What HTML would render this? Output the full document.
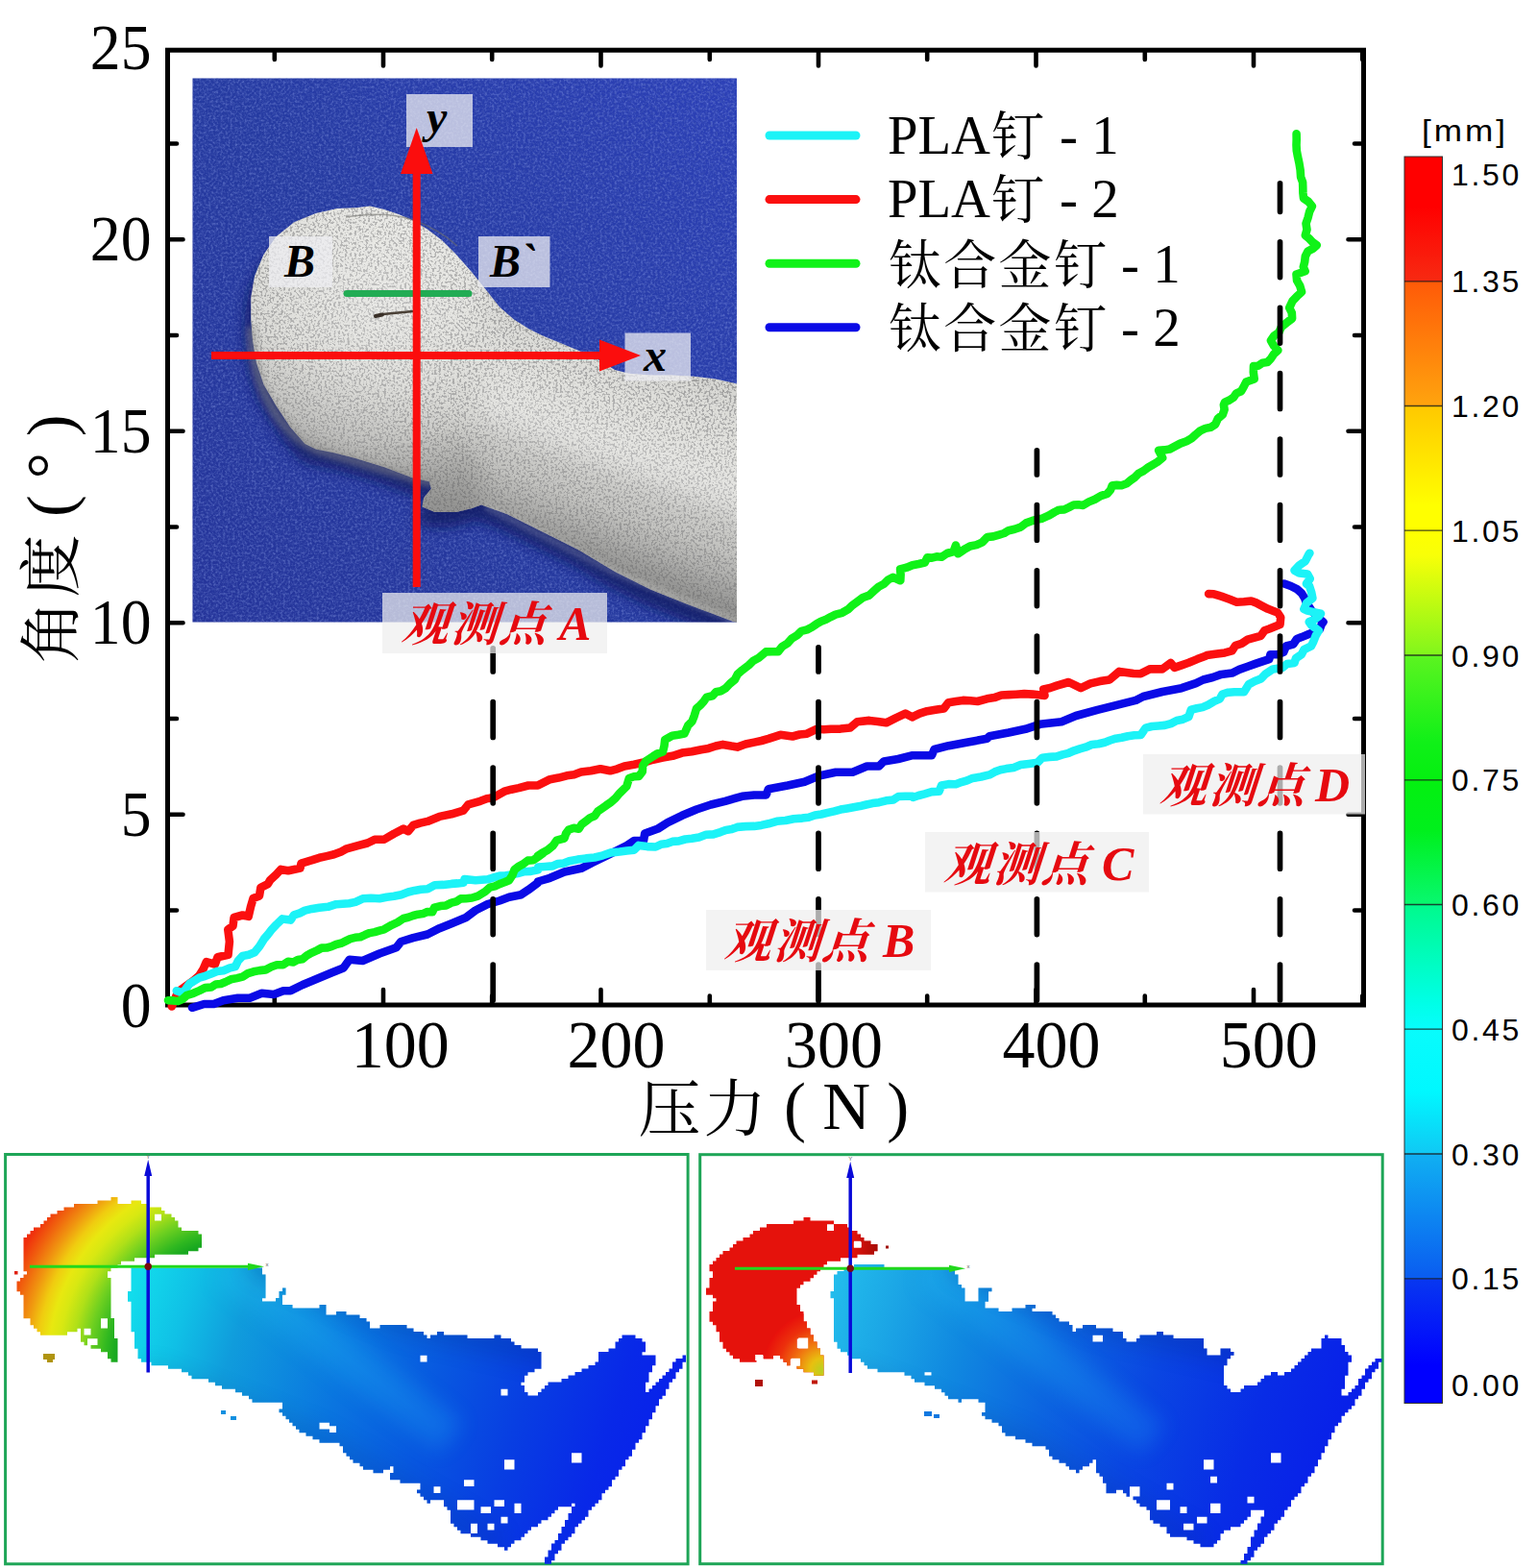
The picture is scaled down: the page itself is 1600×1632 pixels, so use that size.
<!DOCTYPE html>
<html><head><meta charset="utf-8"><title>chart</title><style>html,body{margin:0;padding:0;background:#fff}body{width:1600px;height:1632px;overflow:hidden}</style></head><body>
<svg width="1600" height="1632" viewBox="0 0 1600 1632" style="display:block">
<defs>
<linearGradient id="cbar" x1="0" y1="0" x2="0" y2="1">
<stop offset="0" stop-color="#ff0000"/><stop offset="0.04" stop-color="#ff0000"/>
<stop offset="0.1" stop-color="#f72a12"/><stop offset="0.1" stop-color="#ff5a08"/>
<stop offset="0.2" stop-color="#ffa40e"/><stop offset="0.2" stop-color="#ffc800"/>
<stop offset="0.28" stop-color="#ffff00"/><stop offset="0.3" stop-color="#ffff00"/><stop offset="0.32" stop-color="#f8ff08"/>
<stop offset="0.4" stop-color="#80f61c"/><stop offset="0.4" stop-color="#5cf420"/>
<stop offset="0.47" stop-color="#10f018"/><stop offset="0.5" stop-color="#04f010"/><stop offset="0.54" stop-color="#00f01c"/>
<stop offset="0.6" stop-color="#08f870"/><stop offset="0.6" stop-color="#00fa8c"/>
<stop offset="0.68" stop-color="#00ffe8"/><stop offset="0.7" stop-color="#08fcfc"/><stop offset="0.75" stop-color="#00f8ff"/>
<stop offset="0.8" stop-color="#10c8f4"/><stop offset="0.8" stop-color="#10b0f2"/>
<stop offset="0.9" stop-color="#0a5cf0"/><stop offset="0.9" stop-color="#0838f0"/>
<stop offset="0.97" stop-color="#0000ff"/><stop offset="1" stop-color="#0000ff"/>
</linearGradient>
<linearGradient id="bluebg" x1="0" y1="1" x2="1" y2="0">
<stop offset="0" stop-color="#25349a"/><stop offset="0.5" stop-color="#253aa0"/><stop offset="1" stop-color="#2c40b8"/>
</linearGradient>
<linearGradient id="boneg" gradientUnits="userSpaceOnUse" x1="420" y1="230" x2="330" y2="480">
<stop offset="0" stop-color="#e6e6e2"/><stop offset="0.6" stop-color="#dcdcd8"/><stop offset="1" stop-color="#bcbcba"/>
</linearGradient>
<linearGradient id="shaftg" gradientUnits="userSpaceOnUse" x1="690" y1="385" x2="612" y2="600">
<stop offset="0" stop-color="#000" stop-opacity="0.06"/><stop offset="0.2" stop-color="#fff" stop-opacity="0.05"/><stop offset="0.45" stop-color="#fff" stop-opacity="0.3"/><stop offset="0.68" stop-color="#000" stop-opacity="0.03"/><stop offset="0.9" stop-color="#000" stop-opacity="0.2"/><stop offset="1" stop-color="#000" stop-opacity="0.3"/>
</linearGradient>
<radialGradient id="headg2" gradientUnits="userSpaceOnUse" cx="395" cy="315" r="215">
<stop offset="0" stop-color="#fff" stop-opacity="0.28"/><stop offset="0.5" stop-color="#fff" stop-opacity="0.05"/><stop offset="0.7" stop-color="#000" stop-opacity="0.04"/><stop offset="0.85" stop-color="#000" stop-opacity="0.14"/><stop offset="1" stop-color="#000" stop-opacity="0.22"/>
</radialGradient>
<clipPath id="boneclip"><polygon points="370,216.2 385,214.4 400,218.1 415,223 430,229.4 445,238.8 460,250 475,265 490,281.9 505,300.6 520,319.4 535,332.5 550,341.9 565,349.4 587.5,358.8 610,368.1 625,375.6 640,385 655,388.8 677.5,390.6 700,390.6 722.5,391.8 745,394.4 769.4,400 769.4,649.4 745,640 715,628.8 677.5,613.8 640,595 602.5,572.5 565,553.8 527.5,535 501.2,525.6 490,529.4 475,533.1 452.5,533.1 439.4,527.5 441.2,518.1 448.8,508.8 446.9,501.2 430,497.5 400,486.2 370,476.9 347.5,471.2 328.8,467.5 317.5,461.9 302.5,445 287.5,422.5 274.4,400 266.9,377.5 263.1,355 261.2,332.5 261.2,310 265,287.5 274.4,265 287.5,246.2 306.2,231.2 328.8,221.9 351.2,217"/></clipPath>
<filter id="speck" x="0" y="0" width="100%" height="100%">
<feTurbulence type="fractalNoise" baseFrequency="0.42" numOctaves="2" seed="3" result="n"/>
<feColorMatrix type="matrix" values="0 0 0 0 0.33  0 0 0 0 0.33  0 0 0 0 0.33  -7 0 0 0 3.55"/>
<feComposite in2="SourceGraphic" operator="in"/>
</filter>
<filter id="weave" x="0" y="0" width="100%" height="100%">
<feTurbulence type="fractalNoise" baseFrequency="0.4" numOctaves="2" seed="8"/>
<feColorMatrix type="matrix" values="0 0 0 0 0.36  0 0 0 0 0.46  0 0 0 0 0.92  2.4 0 0 0 -1.05"/>
</filter>
<filter id="weaved" x="0" y="0" width="100%" height="100%">
<feTurbulence type="fractalNoise" baseFrequency="0.4" numOctaves="2" seed="21"/>
<feColorMatrix type="matrix" values="0 0 0 0 0.06  0 0 0 0 0.1  0 0 0 0 0.45  2.4 0 0 0 -1.05"/>
</filter>
<filter id="blur6"><feGaussianBlur stdDeviation="7"/></filter>
<filter id="blur16" x="-20%" y="-20%" width="140%" height="140%"><feGaussianBlur stdDeviation="14"/></filter>
<filter id="blur3"><feGaussianBlur stdDeviation="3"/></filter>
<clipPath id="photoclip"><rect x="200.5" y="81.5" width="566.5" height="566"/></clipPath>
<radialGradient id="lheadg" gradientUnits="userSpaceOnUse" cx="250" cy="1420" r="265">
<stop offset="0.49" stop-color="#18a820"/><stop offset="0.53" stop-color="#30b820"/><stop offset="0.6" stop-color="#70d020"/><stop offset="0.66" stop-color="#b0e018"/><stop offset="0.715" stop-color="#d8e812"/><stop offset="0.755" stop-color="#e8e810"/><stop offset="0.8" stop-color="#f0cc10"/><stop offset="0.85" stop-color="#f09810"/><stop offset="0.91" stop-color="#f0600e"/><stop offset="0.965" stop-color="#f0300c"/><stop offset="1" stop-color="#f0280c"/>
</radialGradient>
<linearGradient id="lbodyg" gradientUnits="userSpaceOnUse" x1="140" y1="1340" x2="690" y2="1520">
<stop offset="0" stop-color="#12dcec"/><stop offset="0.1" stop-color="#10c0e6"/><stop offset="0.2" stop-color="#109cdc"/><stop offset="0.4" stop-color="#0a76e0"/><stop offset="0.57" stop-color="#0858e0"/><stop offset="0.73" stop-color="#083ee2"/><stop offset="0.89" stop-color="#0828e8"/><stop offset="1" stop-color="#0820ec"/>
</linearGradient>
<linearGradient id="rbodyg" gradientUnits="userSpaceOnUse" x1="868" y1="1340" x2="1415" y2="1520">
<stop offset="0" stop-color="#22bcec"/><stop offset="0.1" stop-color="#1ca8e6"/><stop offset="0.25" stop-color="#1088e0"/><stop offset="0.42" stop-color="#0c66e0"/><stop offset="0.6" stop-color="#0a46e2"/><stop offset="0.8" stop-color="#082ce6"/><stop offset="1" stop-color="#081cea"/>
</linearGradient>
<radialGradient id="rheadg" gradientUnits="userSpaceOnUse" cx="856" cy="1426" r="62">
<stop offset="0" stop-color="#b8d020"/><stop offset="0.2" stop-color="#e8c010"/><stop offset="0.45" stop-color="#f07810"/><stop offset="0.75" stop-color="#ec300c"/><stop offset="1" stop-color="#e8100c"/>
</radialGradient>
</defs>
<rect width="1600" height="1632" fill="#fff"/>
<g clip-path="url(#photoclip)">
<rect x="200" y="81" width="568" height="568" fill="url(#bluebg)"/>
<rect x="200" y="81" width="568" height="568" filter="url(#weave)" opacity="0.4"/>
<rect x="200" y="81" width="568" height="568" filter="url(#weaved)" opacity="0.55"/>
<polygon points="364,232.2 379,230.4 394,234.1 409,239 424,245.4 439,254.8 454,266 469,281 484,297.9 499,316.6 514,335.4 529,348.5 544,357.9 559,365.4 581.5,374.8 604,384.1 619,391.6 634,401 649,404.8 671.5,406.6 694,406.6 716.5,407.8 739,410.4 763.4,416 763.4,665.4 739,656 709,644.8 671.5,629.8 634,611 596.5,588.5 559,569.8 521.5,551 495.2,541.6 484,545.4 469,549.1 446.5,549.1 433.4,543.5 435.2,534.1 442.8,524.8 440.9,517.2 424,513.5 394,502.2 364,492.9 341.5,487.2 322.8,483.5 311.5,477.9 296.5,461 281.5,438.5 268.4,416 260.9,393.5 257.1,371 255.2,348.5 255.2,326 259,303.5 268.4,281 281.5,262.2 300.2,247.2 322.8,237.9 345.2,233" fill="#0c1458" opacity="0.7" filter="url(#blur6)"/>
<polygon points="370,216.2 385,214.4 400,218.1 415,223 430,229.4 445,238.8 460,250 475,265 490,281.9 505,300.6 520,319.4 535,332.5 550,341.9 565,349.4 587.5,358.8 610,368.1 625,375.6 640,385 655,388.8 677.5,390.6 700,390.6 722.5,391.8 745,394.4 769.4,400 769.4,649.4 745,640 715,628.8 677.5,613.8 640,595 602.5,572.5 565,553.8 527.5,535 501.2,525.6 490,529.4 475,533.1 452.5,533.1 439.4,527.5 441.2,518.1 448.8,508.8 446.9,501.2 430,497.5 400,486.2 370,476.9 347.5,471.2 328.8,467.5 317.5,461.9 302.5,445 287.5,422.5 274.4,400 266.9,377.5 263.1,355 261.2,332.5 261.2,310 265,287.5 274.4,265 287.5,246.2 306.2,231.2 328.8,221.9 351.2,217" fill="url(#boneg)"/>
<polygon points="370,216.2 385,214.4 400,218.1 415,223 430,229.4 445,238.8 460,250 475,265 490,281.9 505,300.6 520,319.4 535,332.5 550,341.9 565,349.4 587.5,358.8 610,368.1 625,375.6 640,385 655,388.8 677.5,390.6 700,390.6 722.5,391.8 745,394.4 769.4,400 769.4,649.4 745,640 715,628.8 677.5,613.8 640,595 602.5,572.5 565,553.8 527.5,535 501.2,525.6 490,529.4 475,533.1 452.5,533.1 439.4,527.5 441.2,518.1 448.8,508.8 446.9,501.2 430,497.5 400,486.2 370,476.9 347.5,471.2 328.8,467.5 317.5,461.9 302.5,445 287.5,422.5 274.4,400 266.9,377.5 263.1,355 261.2,332.5 261.2,310 265,287.5 274.4,265 287.5,246.2 306.2,231.2 328.8,221.9 351.2,217" fill="#000" filter="url(#speck)" opacity="0.8"/>
<g clip-path="url(#boneclip)"><g filter="url(#blur16)"><polygon points="500,150 560,300 640,370 800,380 800,680 520,560 500,560" fill="url(#shaftg)"/><rect x="220" y="150" width="280" height="420" fill="url(#headg2)"/></g></g>
<path d="M262 340 C262 400 290 450 330 468 L450 503" fill="none" stroke="#8c8c8c" stroke-width="10" opacity="0.5" filter="url(#blur3)"/>
<path d="M505 527 L640 596 L767 647" fill="none" stroke="#f0f0ec" stroke-width="5" opacity="0.3" filter="url(#blur3)"/>
<path d="M360 226 C385 222 410 222 430 229 C450 236 465 246 476 256" fill="none" stroke="#6a6a66" stroke-width="1.6" opacity="0.55"/>
<path d="M391 329 L399 327 L430 324" stroke="#4a4036" stroke-width="2.6" fill="none" stroke-linecap="round"/>
<path d="M391 329 L398 327.500" stroke="#3a3028" stroke-width="4" fill="none" stroke-linecap="round"/>
</g>
<rect x="423" y="98" width="69" height="55" fill="#eeeef2" fill-opacity="0.74"/>
<rect x="280" y="246" width="66" height="53" fill="#eeeef2" fill-opacity="0.74"/>
<rect x="498" y="246" width="74.5" height="53" fill="#eeeef2" fill-opacity="0.74"/>
<rect x="650.5" y="346.5" width="68.5" height="50" fill="#eeeef2" fill-opacity="0.74"/>
<line x1="361" y1="305.500" x2="488" y2="305.500" stroke="#22ac54" stroke-width="7" stroke-linecap="round"/>
<line x1="433.700" y1="611" x2="433.700" y2="176" stroke="#fb0d0d" stroke-width="8"/>
<polygon points="433.700,133 450.500,181 417,181" fill="#fb0d0d"/>
<line x1="220" y1="370" x2="630" y2="370" stroke="#fb0d0d" stroke-width="8"/>
<polygon points="667,370 624,353.500 624,386.500" fill="#fb0d0d"/>
<text x="444" y="138" style="font-family:'Liberation Serif',serif;font-weight:bold;font-style:italic;font-size:48px">y</text>
<text x="296" y="287.500" style="font-family:'Liberation Serif',serif;font-weight:bold;font-style:italic;font-size:48px">B</text>
<text x="510" y="287.500" style="font-family:'Liberation Serif',serif;font-weight:bold;font-style:italic;font-size:48px">B`</text>
<text x="670" y="385.500" style="font-family:'Liberation Serif',serif;font-weight:bold;font-style:italic;font-size:48px">x</text>
<rect x="174.500" y="52.200" width="1245" height="993.800" fill="none" stroke="#000" stroke-width="5"/>
<path d="M285.8 1044v-7.5M285.8 54.500v7.5M399 1044v-14M399 54.500v14M512.2 1044v-7.5M512.2 54.500v7.5M625.5 1044v-14M625.5 54.500v14M738.8 1044v-7.5M738.8 54.500v7.5M852 1044v-14M852 54.500v14M965.2 1044v-7.5M965.2 54.500v7.5M1078.5 1044v-14M1078.5 54.500v14M1191.8 1044v-7.5M1191.8 54.500v7.5M1305 1044v-14M1305 54.500v14M1418.2 1044v-7.5M1418.2 54.500v7.5M176.500 947.5h7.5M1417.500 947.5h-7.5M176.500 847.8h14M1417.500 847.8h-14M176.500 748h7.5M1417.500 748h-7.5M176.500 648.3h14M1417.500 648.3h-14M176.500 548.5h7.5M1417.500 548.5h-7.5M176.500 448.8h14M1417.500 448.8h-14M176.500 349h7.5M1417.500 349h-7.5M176.500 249.3h14M1417.500 249.3h-14M176.500 149.5h7.5M1417.500 149.5h-7.5" stroke="#000" stroke-width="4.600" fill="none" stroke-linecap="round"/>
<text transform="translate(157.5 1069.1) scale(0.965 1.02)" text-anchor="end" style="font-family:'Liberation Serif',serif;font-size:66px">0</text>
<text transform="translate(157.5 869.6) scale(0.965 1.02)" text-anchor="end" style="font-family:'Liberation Serif',serif;font-size:66px">5</text>
<text transform="translate(157.5 670.1) scale(0.965 1.02)" text-anchor="end" style="font-family:'Liberation Serif',serif;font-size:66px">10</text>
<text transform="translate(157.5 470.6) scale(0.965 1.02)" text-anchor="end" style="font-family:'Liberation Serif',serif;font-size:66px">15</text>
<text transform="translate(157.5 271.1) scale(0.965 1.02)" text-anchor="end" style="font-family:'Liberation Serif',serif;font-size:66px">20</text>
<text transform="translate(157.5 71.6) scale(0.965 1.02)" text-anchor="end" style="font-family:'Liberation Serif',serif;font-size:66px">25</text>
<text transform="translate(416.7 1110.5) scale(1.03 1.05)" text-anchor="middle" style="font-family:'Liberation Serif',serif;font-size:66px">100</text>
<text transform="translate(641.5 1110.5) scale(1.03 1.05)" text-anchor="middle" style="font-family:'Liberation Serif',serif;font-size:66px">200</text>
<text transform="translate(868 1110.5) scale(1.03 1.05)" text-anchor="middle" style="font-family:'Liberation Serif',serif;font-size:66px">300</text>
<text transform="translate(1094.5 1110.5) scale(1.03 1.05)" text-anchor="middle" style="font-family:'Liberation Serif',serif;font-size:66px">400</text>
<text transform="translate(1320.7 1110.5) scale(1.03 1.05)" text-anchor="middle" style="font-family:'Liberation Serif',serif;font-size:66px">500</text>
<path d="M200 1048.8 L212.5 1045 L222.5 1045 L232.5 1041.2 L247.5 1038.8 L260 1038.8 L272.5 1033.8 L285 1035 L295 1031.2 L302.5 1031.2 L315 1025 L330 1018.8 L345 1012.5 L357.5 1007.5 L363.8 998.8 L377.5 1000 L395 992.5 L412.5 986.2 L417.5 980 L430 976.2 L445 972.5 L457.5 966.2 L470 961.2 L485 955 L495 947.5 L507.5 941.2 L520 937.5 L530 933.8 L542.5 931.2 L550 926.2 L560 918.8 L560 917.5 L572.5 913.8 L587.5 907.5 L605 903.8 L617.5 897.5 L635 888.8 L652.5 880 L660 875 L670 875 L671.2 867.5 L685 862.5 L695 856.2 L710 848.8 L725 842.5 L740 837.5 L755 833.8 L772.5 828.8 L785 827.5 L797.5 827.5 L800 821.2 L820 817.5 L837.5 813.8 L852.5 807.5 L870 803.8 L887.5 803.8 L902.5 797.5 L915 797.5 L920 792.5 L935 790 L950 786.2 L950 786.2 L970 786.2 L972.5 780 L987.5 776.2 L1007.5 772.5 L1027.5 768.8 L1030 766.2 L1050 762.5 L1067.5 758.8 L1082.5 753.8 L1105 751.2 L1120 745 L1142.5 738.8 L1162.5 733.8 L1182.5 728.8 L1190 725 L1210 720 L1230 716.2 L1245 711.2 L1252.5 707.5 L1262.5 705 L1271.2 701.9 L1282.5 700.6 L1290 696.9 L1298.8 693.8 L1307.5 690.6 L1315 688.1 L1321.2 686.2 L1322.5 681.2 L1330 681.2 L1336.2 678.8 L1338.8 672.5 L1346.2 670.6 L1350 665 L1355 663.1 L1362.5 660 L1368.8 657.5 L1373.8 655 L1375.6 650 L1377.5 647.5 L1371.2 641.9 L1365 635 L1360 627.5 L1358.1 622.5 L1355 617.5 L1350 613.1 L1343.8 610 L1336.9 607.5" fill="none" stroke="#0a0ae6" stroke-width="8.6" stroke-linejoin="round" stroke-linecap="round"/>
<path d="M178.8 1047.5 L182 1040.1 L185.1 1032.5 L195.1 1025.1 L201.6 1020.4 L207.6 1015.1 L211.7 1008.4 L214.8 1001.1 L223.8 1003.7 L226.5 996.3 L237.5 993.8 L238.9 980 L237.3 967.5 L242.5 963.7 L243.6 955 L252.5 952.5 L258.7 953.8 L261 943.7 L263.6 935 L270 932.4 L271.4 923.8 L278.8 920.1 L281.1 916.2 L287.6 910.1 L292.4 904.9 L300 906.3 L312.5 903.6 L313.5 898.7 L325.1 895.2 L332.4 892.8 L340 891.1 L347.7 889.3 L355.1 886.4 L360 883.7 L372.6 880.2 L382.5 877.5 L390 873.8 L400 873.6 L410.1 867.7 L420 862.6 L424.9 865.2 L430.1 858.9 L437.4 856.6 L445 854.9 L457.4 849.9 L470 847.3 L482.4 843.6 L487.4 837.4 L500 833.8 L506.7 831.3 L513.8 830.1 L525 823.7 L532.4 821.7 L540 820.1 L550 817.5 L560 817.4 L572.5 811.2 L581.3 809.6 L590 807.3 L597.6 806.2 L604.9 803.5 L615.1 802.2 L625 800.2 L635.1 802.3 L642.6 800.3 L650 797.4 L660 795.7 L670 793.5 L679.9 790.7 L690 788.6 L700.1 786.8 L710 783.6 L720.1 782.2 L730 780.2 L737.6 778.9 L745 776.5 L752.5 774.9 L760 776.3 L767.5 777.6 L776.1 774.5 L785 772.6 L792.6 771 L800 768.9 L812.4 764.8 L825 766.5 L832.4 764.5 L840 763.7 L850 758.8 L857.5 759.3 L865 758.7 L875 758.6 L885 757.5 L892.4 751.2 L905 749.9 L913.8 750.9 L922.5 752.3 L932.4 747.3 L942.5 742.6 L949.9 746.5 L950 746.2 L957.3 742.6 L965.1 740.2 L973.8 738.8 L982.5 737.5 L987.4 731.2 L995 730.1 L1002.5 728.9 L1010 729.3 L1017.5 730 L1027.4 727.3 L1035.1 726.1 L1042.4 723.5 L1050 723.1 L1057.5 722.7 L1066.2 722.1 L1075 722.6 L1087.5 724 L1086.3 717.5 L1093.2 716 L1100 713.6 L1112.5 710 L1125.1 716.1 L1135.1 711.4 L1145 709.1 L1155 707.5 L1165.2 698.9 L1172.5 700 L1179.9 701 L1187.5 701.2 L1197.5 696.2 L1210 696.4 L1218.7 690 L1222.6 694.9 L1230 692.4 L1237.4 689.8 L1246.2 686.1 L1255.1 682.7 L1256.3 682.1 L1265 680.7 L1275 679.4 L1282.5 677.4 L1286.1 671.8 L1292.5 669.9 L1298.8 665.7 L1305.1 663.9 L1312.5 661.8 L1316.4 656.3 L1321.3 654.5 L1327.5 652 L1332.5 650.1 L1333.2 642.5 L1329.9 637.5 L1326.3 636.2 L1320 633.8 L1313.7 630.6 L1307.6 627.4 L1302.5 625.5 L1295 626.3 L1287.5 626.7 L1280 623.7 L1271.3 620.6 L1263.7 618.3 L1258.1 618.1" fill="none" stroke="#fb0f0f" stroke-width="8.6" stroke-linejoin="round" stroke-linecap="round"/>
<path d="M513.2 674.9V699M513.2 730.6V767.4M513.2 799V835.8M513.2 867.4V904.2M513.2 935.8V972.6M513.2 1004.2V1041" stroke="#000" stroke-width="5.7" stroke-linecap="round" fill="none"/>
<path d="M183.8 1031.2 L190.1 1033.6 L193.8 1028.8 L197.4 1023.7 L207.5 1017.6 L213.8 1015.8 L219.9 1013.5 L226 1011 L232.6 1010.2 L238.6 1007.7 L244.9 1006.1 L247.8 1000.1 L252.5 995 L258.9 993.7 L265 991.2 L270.1 985.1 L274.8 977.4 L278.9 972.6 L282.7 967.7 L287.5 962.5 L293.9 956.4 L302.5 957.6 L306 952.3 L312.1 950.4 L317.5 947.6 L324.9 945.9 L332.4 944.7 L341.4 943.8 L350 941.2 L356.7 940.8 L363.4 940.3 L370 938.9 L377.6 935.3 L386.2 934.8 L395 935.2 L402.5 933.7 L410.1 932.8 L417.7 931.3 L424.9 928.5 L431.5 926.9 L438.2 925.7 L445.1 925.3 L452.5 921.2 L461.3 920.9 L470 919.9 L476.3 919.4 L482.5 918.7 L483.6 915 L495 916.3 L501.3 915.8 L507.5 915.3 L513.8 913.4 L520.1 911.5 L526.3 911.3 L532.5 910.4 L538.8 909.1 L545 907.3 L552.6 906.9 L560.1 905.3 L560.3 902.5 L567.5 902 L575 901.4 L580.7 899.1 L586.8 898.5 L592.5 896.3 L601.2 894.6 L610 893.4 L618.9 892.5 L627.6 890.3 L636.1 887.4 L645 886.5 L652.5 885.5 L660 884.7 L664.9 879.9 L673.7 881.1 L682.5 881.5 L688.1 878.8 L694.2 878.1 L699.9 875.9 L706.7 875.4 L713.3 873.5 L720.1 872.8 L727.7 871.5 L735 868.8 L742.6 868.4 L750 866.1 L755.6 863.9 L761.7 863.1 L767.4 860.9 L776.2 860.1 L785 859.9 L792.5 858.9 L800 857.3 L808.6 854.8 L817.6 854 L826.2 852.2 L835 851.6 L841.8 850.7 L848.3 848.5 L855 847.5 L861.7 845.9 L868.4 844.4 L875 842.6 L881.7 841.4 L888.4 840.2 L895.1 839.1 L901.7 837.5 L908.3 836.1 L915 835.2 L922.4 833.3 L930 832.4 L935.2 829 L942.5 828.8 L950 828.8 L950.4 830 L956.2 828 L962.5 826.3 L969.9 824.1 L977.5 823.8 L980.1 817.5 L987.4 816.1 L995 816.3 L1000.8 814.1 L1006.8 812.4 L1012.5 809.9 L1021.3 808.5 L1030 806.4 L1035.5 803.4 L1041.4 801.3 L1047.5 800.1 L1055.2 798.9 L1062.5 796.1 L1071.2 794.9 L1080 793.8 L1084.9 788.7 L1092.5 787.9 L1100 787.4 L1106.2 785.4 L1112.5 783.8 L1118.2 781.3 L1124.1 779.4 L1130.1 777.7 L1136.5 775 L1143.4 774.3 L1150 772.7 L1155.7 770.5 L1161.5 768.7 L1167.6 767.7 L1174.1 766.2 L1180.8 765.3 L1187.5 765 L1192.6 757.6 L1199.1 756 L1205.8 755.5 L1212.5 754.9 L1219 753.1 L1225 750 L1231.4 748.7 L1237.4 746 L1239.9 738.7 L1245.9 737.3 L1251.9 736.1 L1257.5 733.7 L1263.5 730.2 L1269.9 727.3 L1272.5 722.5 L1278.6 720.7 L1285 720.2 L1295 720.2 L1299.8 712.4 L1306.1 709 L1312.6 706.4 L1317.6 701.3 L1325.1 696.4 L1335 694.9 L1339.8 691 L1347.5 689.9 L1349 685.1 L1354.9 681.1 L1357.4 676.2 L1365 672.4 L1367.4 667.5 L1369.9 661.2 L1372.8 656.4 L1368.6 653.3 L1364.8 650.3 L1362.7 647.3 L1367.6 645.2 L1372.7 641.5 L1375 638.7 L1367.6 637.2 L1360.1 635.3 L1357.4 633.9 L1360.2 627.6 L1366.4 622.7 L1365.1 616.2 L1363.1 610 L1359.9 607.6 L1363.7 602.4 L1361.1 597.6 L1352.5 596.6 L1347.5 593.7 L1352.4 588.6 L1358.9 583.9 L1362.2 577.3 L1363.4 575.7" fill="none" stroke="#1cf3f7" stroke-width="8.6" stroke-linejoin="round" stroke-linecap="round"/>
<path d="M175 1041.2 L180.1 1041.4 L185.1 1042.1 L190.2 1039.8 L194.7 1035.8 L201.3 1033.8 L207.4 1031.1 L213.4 1028.1 L220 1027.5 L224.6 1024.5 L229.9 1024 L234.8 1022 L240.4 1019.3 L246.6 1018.1 L252.6 1016.6 L258 1013.1 L263.9 1011.3 L270.1 1010.1 L276.6 1009.4 L282.5 1006.3 L288.2 1004.3 L294.6 1004.3 L299.9 1000.7 L305.2 1001.5 L309.9 999 L314.9 998.3 L319.4 994.5 L324.7 991.6 L330.2 989.1 L334.8 986.6 L340.1 986.5 L345 985.2 L349.9 983 L355 981.8 L359.8 979.5 L364.6 977.1 L369.7 975.8 L375.1 975.2 L379.9 973.1 L384.8 971.1 L390 970.1 L395 968.6 L399.9 967.3 L407.7 962.8 L414 959.9 L419.9 956 L425.1 954.8 L430 953 L435.1 951.7 L440.1 951.1 L444.9 949 L450.1 949.3 L452.1 944.7 L458.3 943.1 L464.4 942.4 L469.9 939.6 L475 938.3 L479.6 935.4 L485.1 935.2 L491.4 934.5 L497.5 932.6 L505.2 927.9 L509.9 923.6 L515.2 922.4 L520 920.1 L525.1 918.3 L530 916.2 L533.4 911 L535.5 905.2 L540 901.8 L545.1 898.9 L549.5 895.6 L555.1 895.2 L560.3 891.6 L565.4 888 L559.8 890.9 L564.7 887.6 L569.9 884.9 L575.4 880.4 L579.6 874.6 L587.5 872.5 L589.1 867.6 L592.1 863.5 L597.3 861.8 L602.5 862.8 L605.5 858 L609.8 854.8 L614 851.4 L619 849.2 L622.2 844.6 L626.6 841.5 L630.9 838.4 L635.3 835.4 L640.7 830.7 L645.3 825.3 L652.3 818.5 L654.9 810 L659.9 808.3 L665.1 807.9 L668.7 803.1 L669.1 797 L672.2 792.3 L679.8 787.2 L684.6 784.3 L690 782.5 L691.5 776.3 L692.2 769.9 L699.7 765.7 L706.2 764.8 L712.5 763.6 L716.3 755 L720.5 750.7 L722.7 745.1 L725 737.5 L729 734 L732.6 730.1 L735.8 725.6 L741.6 724.3 L745.2 720.3 L750.4 719.2 L755.1 716.6 L759.8 711.6 L764.9 707.4 L767.8 701.8 L772.6 697.6 L779.7 692.1 L784.2 687.7 L789.8 684.7 L797.2 678.4 L803.8 678.3 L810 678.2 L814 673.2 L819.7 669.7 L824.2 664.7 L829.9 661.1 L834.2 656.9 L840.2 655.4 L845.2 652.8 L849.8 649.6 L854.7 646.8 L859.9 644.8 L864.8 642.1 L869.8 639.6 L876.7 637.8 L882.8 634.3 L887.4 629.9 L892.5 626.2 L898.2 622 L904.8 619.6 L909.9 614.9 L914.6 610.7 L920.2 607.8 L924.5 603.5 L929.7 600.8 L937.3 604.3 L937.6 598.1 L937.1 592.5 L943.8 590.7 L949.8 588.2 L956.3 587 L962.7 585.5 L965.4 580.2 L970 580.6 L975 579.3 L980 579.8 L985.8 576 L992.6 574 L995 567.5 L997.2 576.3 L1003.5 572.1 L1009.8 568.5 L1016.6 567.1 L1022.7 564.3 L1027.8 559 L1033.9 558.4 L1040.1 556.6 L1045.3 555 L1049.9 552.2 L1056.3 550.7 L1062.5 548.6 L1068.1 544.4 L1074.7 542 L1079.8 540.6 L1084.9 539.7 L1091.5 536.7 L1097.8 533 L1102.4 530.7 L1107.9 530.4 L1112.7 528.1 L1117.7 525.5 L1122.6 525.2 L1127.5 525.9 L1133.4 522.4 L1139.8 519.7 L1145.9 516.1 L1152.6 513.9 L1156 510 L1157.9 505.2 L1162.5 504.9 L1167.5 505.2 L1172.9 503.3 L1177.3 499.6 L1181.6 496.6 L1185.3 492.8 L1190.4 490.1 L1195.2 486.5 L1200 483.7 L1204.8 480.9 L1210.2 476.5 L1206.1 468.8 L1211.9 468.4 L1217.4 467.6 L1222.5 464.9 L1228.6 461.6 L1235.2 459.2 L1240.4 456.2 L1244.8 452.2 L1249.4 448.4 L1254.8 445.9 L1260.5 444.8 L1265.2 441.6 L1267.9 435.6 L1272.8 431.5 L1274.6 426.4 L1273.9 421.3 L1275 418.6 L1279.8 416.5 L1284.1 413.7 L1287 409.4 L1292.1 407.2 L1294.8 402.4 L1297.2 397.6 L1305.7 394.4 L1304.8 387.5 L1305 381 L1309.7 380.8 L1314.2 377.7 L1319.2 377.1 L1322.8 373.5 L1326 368.6 L1330.4 364.6 L1326 359.9 L1322.9 354.4 L1326.3 349.5 L1331.3 346 L1333.8 340.5 L1339.4 335.9 L1345.1 331.5 L1344.8 325.6 L1342.2 320.4 L1345.5 313.2 L1350.1 308.4 L1355.1 303.9 L1353.3 297.7 L1350.1 292 L1349.5 285.5 L1358.7 282.3 L1356.8 277.8 L1358.2 272.5 L1358.8 266.7 L1361.5 261.5 L1366.5 258.9 L1370.8 255.2 L1366.4 252.1 L1362.8 248.3 L1358.8 244.9 L1360.5 239 L1359.5 232.6 L1361.6 226.6 L1363.1 220.4 L1365.9 214.6 L1362.1 209.9 L1357 206.4 L1356.4 200.9 L1356.3 195.3 L1356.1 189.7 L1354.1 184.3 L1353.6 176.9 L1352.4 169.6 L1351 163.2 L1349.8 156.7 L1349.5 150.9 L1349.7 145.1 L1349.6 139.3" fill="none" stroke="#10f218" stroke-width="8.6" stroke-linejoin="round" stroke-linecap="round"/>
<path d="M852 673.9V699M852 730.6V767.4M852 799V835.8M852 867.4V904.2M852 935.8V972.6M852 1004.2V1041" stroke="#000" stroke-width="5.7" stroke-linecap="round" fill="none"/>
<path d="M1079.4 468.9V493.9M1079.4 525.5V562.2M1079.4 593.9V630.6M1079.4 662.2V699M1079.4 730.6V767.4M1079.4 799V835.8M1079.4 867.4V904.2M1079.4 935.8V972.6M1079.4 1004.2V1041" stroke="#000" stroke-width="5.7" stroke-linecap="round" fill="none"/>
<path d="M1332.5 190.8V220.3M1332.5 251.9V288.6M1332.5 320.3V357.1M1332.5 388.7V425.5M1332.5 457.1V493.9M1332.5 525.5V562.2M1332.5 593.9V630.6M1332.5 662.2V699M1332.5 730.6V767.4M1332.5 799V835.8M1332.5 867.4V904.2M1332.5 935.8V972.6M1332.5 1004.2V1041" stroke="#000" stroke-width="5.7" stroke-linecap="round" fill="none"/>
<line x1="801" y1="141" x2="891" y2="141" stroke="#1cf3f7" stroke-width="9" stroke-linecap="round"/>
<line x1="801" y1="207.6" x2="891" y2="207.6" stroke="#fb0f0f" stroke-width="9" stroke-linecap="round"/>
<line x1="801" y1="274.2" x2="891" y2="274.2" stroke="#10f218" stroke-width="9" stroke-linecap="round"/>
<line x1="801" y1="340.800" x2="891" y2="340.800" stroke="#0a0ae6" stroke-width="9" stroke-linecap="round"/>
<text x="924" y="159.6" style="font-family:'Liberation Serif',serif;font-size:57px" textLength="107" lengthAdjust="spacingAndGlyphs">PLA</text>
<text x="1032" y="160.6" style="font-family:'Liberation Serif','Noto Serif CJK SC',serif;font-size:55px" fill="#000">钉</text>
<text x="1103" y="159.6" style="font-family:'Liberation Serif',serif;font-size:57px" xml:space="preserve">- 1</text>
<text x="924" y="226.3" style="font-family:'Liberation Serif',serif;font-size:57px" textLength="107" lengthAdjust="spacingAndGlyphs">PLA</text>
<text x="1032" y="227.3" style="font-family:'Liberation Serif','Noto Serif CJK SC',serif;font-size:55px" fill="#000">钉</text>
<text x="1103" y="226.3" style="font-family:'Liberation Serif',serif;font-size:57px" xml:space="preserve">- 2</text>
<text x="925" y="294.6" style="font-family:'Liberation Serif','Noto Serif CJK SC',serif;font-size:55px;letter-spacing:2.3px" fill="#000">钛合金钉</text>
<text x="1167" y="293.6" style="font-family:'Liberation Serif',serif;font-size:57px" xml:space="preserve">- 1</text>
<text x="925" y="361.3" style="font-family:'Liberation Serif','Noto Serif CJK SC',serif;font-size:55px;letter-spacing:2.3px" fill="#000">钛合金钉</text>
<text x="1167" y="360.3" style="font-family:'Liberation Serif',serif;font-size:57px" xml:space="preserve">- 2</text>
<text x="664.5" y="1176.5" style="font-family:'Liberation Serif','Noto Serif CJK SC',serif;font-size:65px;letter-spacing:3px" fill="#000">压力</text>
<text x="816" y="1175" style="font-family:'Liberation Serif',serif;font-size:69px" xml:space="preserve">( N )</text>
<g transform="translate(75 692) rotate(-90)">
<text x="1.5" y="1" style="font-family:'Liberation Serif','Noto Serif CJK SC',serif;font-size:65px;letter-spacing:4px" fill="#000">角度</text>
<text x="154" y="0" style="font-family:'Liberation Serif',serif;font-size:68px" xml:space="preserve">( ° )</text>
</g>
<rect x="398" y="617" width="234" height="63" fill="#eeeeee" fill-opacity="0.72"/>
<text transform="translate(417 666.5) skewX(-18)" style="font-family:'Liberation Serif','Noto Serif CJK SC',serif;font-weight:bold;font-size:49px;letter-spacing:2px" fill="#e60a10">观测点</text>
<text x="582" y="665.5" style="font-family:'Liberation Serif',serif;font-weight:bold;font-style:italic;font-size:50px" fill="#e60a10">A</text>
<rect x="735" y="947" width="234" height="63" fill="#eeeeee" fill-opacity="0.72"/>
<text transform="translate(753 996.5) skewX(-18)" style="font-family:'Liberation Serif','Noto Serif CJK SC',serif;font-weight:bold;font-size:49px;letter-spacing:2px" fill="#e60a10">观测点</text>
<text x="919" y="995.5" style="font-family:'Liberation Serif',serif;font-weight:bold;font-style:italic;font-size:50px" fill="#e60a10">B</text>
<rect x="963" y="866" width="233" height="62.5" fill="#eeeeee" fill-opacity="0.72"/>
<text transform="translate(981.5 916.5) skewX(-18)" style="font-family:'Liberation Serif','Noto Serif CJK SC',serif;font-weight:bold;font-size:49px;letter-spacing:2px" fill="#e60a10">观测点</text>
<text x="1147" y="915.5" style="font-family:'Liberation Serif',serif;font-weight:bold;font-style:italic;font-size:50px" fill="#e60a10">C</text>
<rect x="1190" y="785" width="231" height="62.5" fill="#eeeeee" fill-opacity="0.72"/>
<text transform="translate(1206.5 834.5) skewX(-18)" style="font-family:'Liberation Serif','Noto Serif CJK SC',serif;font-weight:bold;font-size:49px;letter-spacing:2px" fill="#e60a10">观测点</text>
<text x="1369" y="833.5" style="font-family:'Liberation Serif',serif;font-weight:bold;font-style:italic;font-size:50px" fill="#e60a10">D</text>
<rect x="1462" y="163" width="39.500" height="1297.500" fill="url(#cbar)" stroke="#303030" stroke-width="1"/>
<path d="M1462 292.8h39.500M1462 422.5h39.500M1462 552.2h39.500M1462 682h39.500M1462 811.8h39.500M1462 941.5h39.500M1462 1071.2h39.500M1462 1201h39.500M1462 1330.8h39.500" stroke="#1a1a1a" stroke-width="1.300" opacity="0.8"/>
<text x="1511" y="192.5" style="font-family:'Liberation Sans',sans-serif;font-size:32px;letter-spacing:2.7px">1.50</text>
<text x="1511" y="304.2" style="font-family:'Liberation Sans',sans-serif;font-size:32px;letter-spacing:2.7px">1.35</text>
<text x="1511" y="434" style="font-family:'Liberation Sans',sans-serif;font-size:32px;letter-spacing:2.7px">1.20</text>
<text x="1511" y="563.8" style="font-family:'Liberation Sans',sans-serif;font-size:32px;letter-spacing:2.7px">1.05</text>
<text x="1511" y="693.5" style="font-family:'Liberation Sans',sans-serif;font-size:32px;letter-spacing:2.7px">0.90</text>
<text x="1511" y="823.2" style="font-family:'Liberation Sans',sans-serif;font-size:32px;letter-spacing:2.7px">0.75</text>
<text x="1511" y="953" style="font-family:'Liberation Sans',sans-serif;font-size:32px;letter-spacing:2.7px">0.60</text>
<text x="1511" y="1082.8" style="font-family:'Liberation Sans',sans-serif;font-size:32px;letter-spacing:2.7px">0.45</text>
<text x="1511" y="1212.5" style="font-family:'Liberation Sans',sans-serif;font-size:32px;letter-spacing:2.7px">0.30</text>
<text x="1511" y="1342.2" style="font-family:'Liberation Sans',sans-serif;font-size:32px;letter-spacing:2.7px">0.15</text>
<text x="1511" y="1452.5" style="font-family:'Liberation Sans',sans-serif;font-size:32px;letter-spacing:2.7px">0.00</text>
<text x="1480" y="147" style="font-family:'Liberation Sans',sans-serif;font-size:32px;letter-spacing:2.7px" textLength="90" lengthAdjust="spacingAndGlyphs">[mm]</text>
<rect x="5.600" y="1201.500" width="710.500" height="426.300" fill="none" stroke="#1ea557" stroke-width="3"/>
<rect x="728.700" y="1201.700" width="710.500" height="426" fill="none" stroke="#1ea557" stroke-width="3"/>
<path d="M115.5 1246h7v3.8h-7zM101.5 1249.5h21v3.8h-21zM136.5 1249.5h10.5v3.8h-10.5zM77 1253h77v3.8h-77zM66.5 1256.5h101.5v3.8h-101.5zM59.5 1260h112v3.8h-112zM52.5 1263.5h108.5v3.8h-108.5zM168 1263.5h10.5v3.8h-10.5zM49 1267h112v3.8h-112zM168 1267h14v3.8h-14zM45.5 1270.5h140v3.8h-140zM42 1274h143.5v3.8h-143.5zM35 1277.5h154v3.8h-154zM31.5 1281h175v3.8h-175zM28 1284.5h182v3.8h-182zM24.5 1288h185.5v3.8h-185.5zM24.5 1291.5h185.5v3.8h-185.5zM24.5 1295h185.5v3.8h-185.5zM24.5 1298.5h182v3.8h-182zM24.5 1302h171.5v3.8h-171.5zM24.5 1305.5h136.5v3.8h-136.5zM24.5 1309h115.5v3.8h-115.5zM24.5 1312.5h101.5v3.8h-101.5zM24.5 1316h98v3.8h-98zM24.5 1319.5h91v3.8h-91zM28 1323h84v3.8h-84zM24.5 1326.5h87.5v3.8h-87.5zM21 1330h94.5v3.8h-94.5zM17.5 1333.5h98v3.8h-98zM17.5 1337h98v3.8h-98zM17.5 1340.5h98v3.8h-98zM21 1344h94.5v3.8h-94.5zM24.5 1347.5h91v3.8h-91zM24.5 1351h91v3.8h-91zM24.5 1354.5h91v3.8h-91zM24.5 1358h91v3.8h-91zM24.5 1361.5h91v3.8h-91zM24.5 1365h91v3.8h-91zM24.5 1368.5h91v3.8h-91zM31.5 1372h73.5v3.8h-73.5zM112 1372h7v3.8h-7zM31.5 1375.5h73.5v3.8h-73.5zM112 1375.5h7v3.8h-7zM35 1379h70v3.8h-70zM112 1379h7v3.8h-7zM38.5 1382.5h42v3.8h-42zM84 1382.5h3.5v3.8h-3.5zM94.5 1382.5h24.5v3.8h-24.5zM42 1386h28v3.8h-28zM84 1386h3.5v3.8h-3.5zM94.5 1386h24.5v3.8h-24.5zM84 1389.5h35v3.8h-35zM84 1393h7v3.8h-7zM101.5 1393h21v3.8h-21zM87.5 1396.5h3.5v3.8h-3.5zM101.5 1396.5h21v3.8h-21zM94.5 1400h28v3.8h-28zM105 1403.5h17.5v3.8h-17.5zM112 1407h10.5v3.8h-10.5zM112 1410.5h10.5v3.8h-10.5zM115.5 1414h7v3.8h-7z" fill="url(#lheadg)"/>
<defs><path id="lbp" d="M136.5 1319.5h136.5v3.8h-136.5zM136.5 1323h136.5v3.8h-136.5zM136.5 1326.5h140v3.8h-140zM136.5 1330h140v3.8h-140zM136.5 1333.5h140v3.8h-140zM136.5 1337h140v3.8h-140zM136.5 1340.5h140v3.8h-140zM294 1340.5h3.5v3.8h-3.5zM133 1344h143.5v3.8h-143.5zM290.5 1344h7v3.8h-7zM133 1347.5h143.5v3.8h-143.5zM290.5 1347.5h3.5v3.8h-3.5zM133 1351h140v3.8h-140zM287 1351h7v3.8h-7zM136.5 1354.5h157.5v3.8h-157.5zM136.5 1358h168v3.8h-168zM332.5 1358h7v3.8h-7zM136.5 1361.5h203v3.8h-203zM136.5 1365h203v3.8h-203zM350 1365h10.5v3.8h-10.5zM136.5 1368.5h238v3.8h-238zM136.5 1372h245v3.8h-245zM136.5 1375.5h248.5v3.8h-248.5zM136.5 1379h248.5v3.8h-248.5zM395.5 1379h28v3.8h-28zM136.5 1382.5h294v3.8h-294zM140 1386h301v3.8h-301zM455 1386h7v3.8h-7zM140 1389.5h304.5v3.8h-304.5zM448 1389.5h38.5v3.8h-38.5zM514.5 1389.5h7v3.8h-7zM647.5 1389.5h14v3.8h-14zM140 1393h392v3.8h-392zM644 1393h24.5v3.8h-24.5zM140 1396.5h395.5v3.8h-395.5zM640.5 1396.5h31.5v3.8h-31.5zM140 1400h402.5v3.8h-402.5zM640.5 1400h31.5v3.8h-31.5zM143.5 1403.5h416.5v3.8h-416.5zM633.5 1403.5h38.5v3.8h-38.5zM143.5 1407h420v3.8h-420zM623 1407h45.5v3.8h-45.5zM143.5 1410.5h294v3.8h-294zM444.5 1410.5h119v3.8h-119zM623 1410.5h59.5v3.8h-59.5zM710.5 1410.5h3.5v3.8h-3.5zM147 1414h290.5v3.8h-290.5zM444.5 1414h119v3.8h-119zM623 1414h59.5v3.8h-59.5zM703.5 1414h10.5v3.8h-10.5zM157.5 1417.5h406v3.8h-406zM619.5 1417.5h63v3.8h-63zM700 1417.5h10.5v3.8h-10.5zM175 1421h388.5v3.8h-388.5zM612.5 1421h66.5v3.8h-66.5zM700 1421h10.5v3.8h-10.5zM189 1424.5h367.5v3.8h-367.5zM605.5 1424.5h73.5v3.8h-73.5zM696.5 1424.5h10.5v3.8h-10.5zM196 1428h353.5v3.8h-353.5zM598.5 1428h77v3.8h-77zM693 1428h10.5v3.8h-10.5zM199.5 1431.5h346.5v3.8h-346.5zM591.5 1431.5h84v3.8h-84zM689.5 1431.5h14v3.8h-14zM217 1435h329v3.8h-329zM584.5 1435h91v3.8h-91zM686 1435h14v3.8h-14zM224 1438.5h318.5v3.8h-318.5zM570.5 1438.5h101.5v3.8h-101.5zM682.5 1438.5h14v3.8h-14zM231 1442h315v3.8h-315zM567 1442h105v3.8h-105zM679 1442h17.5v3.8h-17.5zM245 1445.5h276.5v3.8h-276.5zM528.5 1445.5h17.5v3.8h-17.5zM563.5 1445.5h108.5v3.8h-108.5zM675.5 1445.5h17.5v3.8h-17.5zM252 1449h269.5v3.8h-269.5zM528.5 1449h21v3.8h-21zM560 1449h133v3.8h-133zM259 1452.5h430.5v3.8h-430.5zM262.5 1456h423.5v3.8h-423.5zM294 1459.5h392v3.8h-392zM294 1463h388.5v3.8h-388.5zM290.5 1466.5h392v3.8h-392zM294 1470h385v3.8h-385zM297.5 1473.5h381.5v3.8h-381.5zM301 1477h374.5v3.8h-374.5zM304.5 1480.5h28v3.8h-28zM343 1480.5h332.5v3.8h-332.5zM308 1484h24.5v3.8h-24.5zM350 1484h322v3.8h-322zM311.5 1487.5h31.5v3.8h-31.5zM350 1487.5h322v3.8h-322zM318.5 1491h350v3.8h-350zM325.5 1494.5h343v3.8h-343zM332.5 1498h332.5v3.8h-332.5zM353.5 1501.5h308v3.8h-308zM357 1505h304.5v3.8h-304.5zM357 1508.5h301v3.8h-301zM360.5 1512h234.5v3.8h-234.5zM605.5 1512h52.5v3.8h-52.5zM364 1515.5h231v3.8h-231zM605.5 1515.5h49v3.8h-49zM367.5 1519h157.5v3.8h-157.5zM535.5 1519h59.5v3.8h-59.5zM605.5 1519h45.5v3.8h-45.5zM374.5 1522.5h150.5v3.8h-150.5zM535.5 1522.5h115.5v3.8h-115.5zM378 1526h28v3.8h-28zM409.5 1526h115.5v3.8h-115.5zM535.5 1526h112v3.8h-112zM388.5 1529.5h10.5v3.8h-10.5zM409.5 1529.5h234.5v3.8h-234.5zM406 1533h238v3.8h-238zM406 1536.5h234.5v3.8h-234.5zM416.5 1540h66.5v3.8h-66.5zM493.5 1540h143.5v3.8h-143.5zM437.5 1543.5h45.5v3.8h-45.5zM493.5 1543.5h143.5v3.8h-143.5zM437.5 1547h14v3.8h-14zM458.5 1547h175v3.8h-175zM434 1550.5h17.5v3.8h-17.5zM458.5 1550.5h171.5v3.8h-171.5zM437.5 1554h189v3.8h-189zM441 1557.5h185.5v3.8h-185.5zM444.5 1561h3.5v3.8h-3.5zM462 1561h14v3.8h-14zM493.5 1561h21v3.8h-21zM525 1561h98v3.8h-98zM462 1564.5h14v3.8h-14zM493.5 1564.5h21v3.8h-21zM525 1564.5h10.5v3.8h-10.5zM542.5 1564.5h52.5v3.8h-52.5zM598.5 1564.5h21v3.8h-21zM465.5 1568h10.5v3.8h-10.5zM493.5 1568h7v3.8h-7zM511 1568h24.5v3.8h-24.5zM542.5 1568h38.5v3.8h-38.5zM595 1568h21v3.8h-21zM469 1571.5h31.5v3.8h-31.5zM511 1571.5h24.5v3.8h-24.5zM542.5 1571.5h35v3.8h-35zM595 1571.5h17.5v3.8h-17.5zM469 1575h105v3.8h-105zM591.5 1575h21v3.8h-21zM469 1578.5h52.5v3.8h-52.5zM528.5 1578.5h42v3.8h-42zM591.5 1578.5h17.5v3.8h-17.5zM469 1582h52.5v3.8h-52.5zM528.5 1582h35v3.8h-35zM588 1582h17.5v3.8h-17.5zM472.5 1585.5h17.5v3.8h-17.5zM497 1585.5h10.5v3.8h-10.5zM514.5 1585.5h45.5v3.8h-45.5zM588 1585.5h14v3.8h-14zM476 1589h14v3.8h-14zM497 1589h10.5v3.8h-10.5zM514.5 1589h38.5v3.8h-38.5zM584.5 1589h14v3.8h-14zM479.5 1592.5h10.5v3.8h-10.5zM497 1592.5h52.5v3.8h-52.5zM584.5 1592.5h14v3.8h-14zM490 1596h56v3.8h-56zM581 1596h14v3.8h-14zM500.5 1599.5h42v3.8h-42zM581 1599.5h10.5v3.8h-10.5zM507.5 1603h28v3.8h-28zM577.5 1603h10.5v3.8h-10.5zM518 1606.5h14v3.8h-14zM574 1606.5h10.5v3.8h-10.5zM525 1610h3.5v3.8h-3.5zM574 1610h10.5v3.8h-10.5zM570.5 1613.5h10.5v3.8h-10.5zM570.5 1617h7v3.8h-7zM567 1620.5h10.5v3.8h-10.5zM567 1624h7v3.8h-7z"/><clipPath id="lbc"><use href="#lbp"/></clipPath><filter id="blur12" x="-30%" y="-30%" width="160%" height="160%"><feGaussianBlur stdDeviation="11"/></filter></defs>
<use href="#lbp" fill="url(#lbodyg)"/>
<g clip-path="url(#lbc)"><path d="M236 1318 L470 1496" stroke="#2cd0ff" stroke-width="40" opacity="0.2" filter="url(#blur12)" fill="none"/><path d="M262 1308 L420 1372 L580 1408" stroke="#002a80" stroke-width="34" opacity="0.22" filter="url(#blur12)" fill="none"/><path d="M150 1430 L330 1500 L520 1610" stroke="#002a80" stroke-width="30" opacity="0.14" filter="url(#blur12)" fill="none"/></g>
<defs><path id="rhp" d="M836.5 1267h7v3.8h-7zM826 1270.5h42v3.8h-42zM798 1274h63v3.8h-63zM868 1274h14v3.8h-14zM791 1277.5h70v3.8h-70zM868 1277.5h17.5v3.8h-17.5zM784 1281h108.5v3.8h-108.5zM780.5 1284.5h115.5v3.8h-115.5zM773.5 1288h126v3.8h-126zM766.5 1291.5h122.5v3.8h-122.5zM896 1291.5h10.5v3.8h-10.5zM763 1295h126v3.8h-126zM896 1295h17.5v3.8h-17.5zM759.5 1298.5h154v3.8h-154zM752.5 1302h157.5v3.8h-157.5zM749 1305.5h143.5v3.8h-143.5zM745.5 1309h129.5v3.8h-129.5zM742 1312.5h119v3.8h-119zM738.5 1316h119v3.8h-119zM738.5 1319.5h115.5v3.8h-115.5zM742 1323h108.5v3.8h-108.5zM742 1326.5h105v3.8h-105zM738.5 1330h105v3.8h-105zM738.5 1333.5h98v3.8h-98zM738.5 1337h94.5v3.8h-94.5zM735 1340.5h94.5v3.8h-94.5zM735 1344h94.5v3.8h-94.5zM742 1347.5h87.5v3.8h-87.5zM745.5 1351h84v3.8h-84zM742 1354.5h87.5v3.8h-87.5zM742 1358h91v3.8h-91zM742 1361.5h91v3.8h-91zM738.5 1365h98v3.8h-98zM738.5 1368.5h98v3.8h-98zM738.5 1372h98v3.8h-98zM742 1375.5h98v3.8h-98zM745.5 1379h94.5v3.8h-94.5zM745.5 1382.5h98v3.8h-98zM749 1386h94.5v3.8h-94.5zM749 1389.5h98v3.8h-98zM749 1393h80.5v3.8h-80.5zM840 1393h7v3.8h-7zM752.5 1396.5h77v3.8h-77zM840 1396.5h10.5v3.8h-10.5zM752.5 1400h77v3.8h-77zM840 1400h10.5v3.8h-10.5zM756 1403.5h98v3.8h-98zM759.5 1407h94.5v3.8h-94.5zM763 1410.5h24.5v3.8h-24.5zM794.5 1410.5h10.5v3.8h-10.5zM812 1410.5h45.5v3.8h-45.5zM770 1414h17.5v3.8h-17.5zM815.5 1414h7v3.8h-7zM833 1414h24.5v3.8h-24.5zM819 1417.5h3.5v3.8h-3.5zM833 1417.5h24.5v3.8h-24.5zM829.5 1421h28v3.8h-28zM836.5 1424.5h21v3.8h-21zM847 1428h10.5v3.8h-10.5z"/><clipPath id="rhc"><use href="#rhp"/></clipPath></defs>
<use href="#rhp" fill="#e5120c"/>
<circle cx="856" cy="1426" r="62" fill="url(#rheadg)" clip-path="url(#rhc)"/>
<linearGradient id="rtip" gradientUnits="userSpaceOnUse" x1="886" y1="0" x2="916" y2="0"><stop offset="0" stop-color="#6a0800" stop-opacity="0"/><stop offset="1" stop-color="#6a0800" stop-opacity="0.55"/></linearGradient>
<rect x="886" y="1276" width="34" height="32" fill="url(#rtip)" clip-path="url(#rhc)"/>
<rect x="861.2" y="1275" width="6" height="6" fill="#fff"/>
<rect x="888.8" y="1292.5" width="8" height="6" fill="#fff"/>
<rect x="831.2" y="1392.5" width="10" height="11" fill="#fff"/>
<rect x="786.2" y="1410" width="8" height="6" fill="#fff"/>
<rect x="823.8" y="1413.8" width="9" height="8" fill="#fff"/>
<defs><path id="rbp" d="M889 1316h31.5v3.8h-31.5zM878.5 1319.5h115.5v3.8h-115.5zM871.5 1323h122.5v3.8h-122.5zM868 1326.5h129.5v3.8h-129.5zM868 1330h129.5v3.8h-129.5zM868 1333.5h129.5v3.8h-129.5zM868 1337h133v3.8h-133zM868 1340.5h136.5v3.8h-136.5zM1018.5 1340.5h14v3.8h-14zM864.5 1344h140v3.8h-140zM1018.5 1344h10.5v3.8h-10.5zM864.5 1347.5h140v3.8h-140zM1018.5 1347.5h10.5v3.8h-10.5zM868 1351h136.5v3.8h-136.5zM1018.5 1351h10.5v3.8h-10.5zM868 1354.5h157.5v3.8h-157.5zM868 1358h157.5v3.8h-157.5zM1067.5 1358h10.5v3.8h-10.5zM868 1361.5h171.5v3.8h-171.5zM1053.5 1361.5h21v3.8h-21zM868 1365h227.5v3.8h-227.5zM868 1368.5h231v3.8h-231zM868 1372h234.5v3.8h-234.5zM868 1375.5h245v3.8h-245zM868 1379h248.5v3.8h-248.5zM1127 1379h14v3.8h-14zM868 1382.5h248.5v3.8h-248.5zM1120 1382.5h38.5v3.8h-38.5zM868 1386h301v3.8h-301zM1204 1386h7v3.8h-7zM868 1389.5h269.5v3.8h-269.5zM1148 1389.5h21v3.8h-21zM1186.5 1389.5h35v3.8h-35zM1379 1389.5h3.5v3.8h-3.5zM868 1393h269.5v3.8h-269.5zM1148 1393h24.5v3.8h-24.5zM1183 1393h70v3.8h-70zM1375.5 1393h21v3.8h-21zM871.5 1396.5h381.5v3.8h-381.5zM1375.5 1396.5h21v3.8h-21zM871.5 1400h381.5v3.8h-381.5zM1375.5 1400h24.5v3.8h-24.5zM875 1403.5h381.5v3.8h-381.5zM1270.5 1403.5h10.5v3.8h-10.5zM1365 1403.5h35v3.8h-35zM882 1407h374.5v3.8h-374.5zM1270.5 1407h14v3.8h-14zM1361.5 1407h42v3.8h-42zM885.5 1410.5h395.5v3.8h-395.5zM1358 1410.5h49v3.8h-49zM896 1414h381.5v3.8h-381.5zM1354.5 1414h52.5v3.8h-52.5zM1431.5 1414h7v3.8h-7zM899.5 1417.5h378v3.8h-378zM1351 1417.5h52.5v3.8h-52.5zM1428 1417.5h7v3.8h-7zM903 1421h371v3.8h-371zM1347.5 1421h56v3.8h-56zM1424.5 1421h10.5v3.8h-10.5zM913.5 1424.5h360.5v3.8h-360.5zM1344 1424.5h59.5v3.8h-59.5zM1421 1424.5h10.5v3.8h-10.5zM941.5 1428h21v3.8h-21zM969.5 1428h304.5v3.8h-304.5zM1323 1428h7v3.8h-7zM1337 1428h66.5v3.8h-66.5zM1421 1428h7v3.8h-7zM948.5 1431.5h325.5v3.8h-325.5zM1316 1431.5h84v3.8h-84zM1417.5 1431.5h10.5v3.8h-10.5zM952 1435h322v3.8h-322zM1312.5 1435h87.5v3.8h-87.5zM1414 1435h10.5v3.8h-10.5zM962.5 1438.5h311.5v3.8h-311.5zM1309 1438.5h91v3.8h-91zM1414 1438.5h7v3.8h-7zM973 1442h304.5v3.8h-304.5zM1295 1442h105v3.8h-105zM1410.5 1442h10.5v3.8h-10.5zM980 1445.5h301v3.8h-301zM1291.5 1445.5h105v3.8h-105zM1407 1445.5h10.5v3.8h-10.5zM983.5 1449h413v3.8h-413zM1403.5 1449h14v3.8h-14zM987 1452.5h427v3.8h-427zM997.5 1456h3.5v3.8h-3.5zM1018.5 1456h392v3.8h-392zM1025.5 1459.5h385v3.8h-385zM1025.5 1463h381.5v3.8h-381.5zM1025.5 1466.5h378v3.8h-378zM1022 1470h378v3.8h-378zM1025.5 1473.5h371v3.8h-371zM1032.5 1477h364v3.8h-364zM1039.5 1480.5h353.5v3.8h-353.5zM1043 1484h346.5v3.8h-346.5zM1043 1487.5h346.5v3.8h-346.5zM1046.5 1491h339.5v3.8h-339.5zM1057 1494.5h329v3.8h-329zM1067.5 1498h315v3.8h-315zM1074.5 1501.5h308v3.8h-308zM1088.5 1505h290.5v3.8h-290.5zM1092 1508.5h287v3.8h-287zM1092 1512h231v3.8h-231zM1333.5 1512h42v3.8h-42zM1095.5 1515.5h227.5v3.8h-227.5zM1333.5 1515.5h42v3.8h-42zM1102.5 1519h35v3.8h-35zM1141 1519h112v3.8h-112zM1263.5 1519h59.5v3.8h-59.5zM1333.5 1519h38.5v3.8h-38.5zM1109.5 1522.5h24.5v3.8h-24.5zM1141 1522.5h112v3.8h-112zM1263.5 1522.5h108.5v3.8h-108.5zM1113 1526h14v3.8h-14zM1141 1526h112v3.8h-112zM1263.5 1526h105v3.8h-105zM1120 1529.5h3.5v3.8h-3.5zM1141 1529.5h227.5v3.8h-227.5zM1144.5 1533h220.5v3.8h-220.5zM1148 1536.5h112v3.8h-112zM1267 1536.5h94.5v3.8h-94.5zM1148 1540h112v3.8h-112zM1267 1540h94.5v3.8h-94.5zM1151.5 1543.5h63v3.8h-63zM1221.5 1543.5h136.5v3.8h-136.5zM1151.5 1547h24.5v3.8h-24.5zM1186.5 1547h28v3.8h-28zM1221.5 1547h133v3.8h-133zM1151.5 1550.5h10.5v3.8h-10.5zM1169 1550.5h7v3.8h-7zM1186.5 1550.5h168v3.8h-168zM1172.5 1554h3.5v3.8h-3.5zM1186.5 1554h164.5v3.8h-164.5zM1179.5 1557.5h119v3.8h-119zM1305.5 1557.5h42v3.8h-42zM1183 1561h21v3.8h-21zM1218 1561h80.5v3.8h-80.5zM1305.5 1561h38.5v3.8h-38.5zM1186.5 1564.5h17.5v3.8h-17.5zM1218 1564.5h42v3.8h-42zM1270.5 1564.5h73.5v3.8h-73.5zM1193.5 1568h10.5v3.8h-10.5zM1218 1568h10.5v3.8h-10.5zM1235.5 1568h24.5v3.8h-24.5zM1270.5 1568h70v3.8h-70zM1197 1571.5h31.5v3.8h-31.5zM1235.5 1571.5h24.5v3.8h-24.5zM1270.5 1571.5h31.5v3.8h-31.5zM1316 1571.5h21v3.8h-21zM1197 1575h105v3.8h-105zM1316 1575h21v3.8h-21zM1197 1578.5h49v3.8h-49zM1256.5 1578.5h42v3.8h-42zM1312.5 1578.5h21v3.8h-21zM1200.5 1582h45.5v3.8h-45.5zM1256.5 1582h38.5v3.8h-38.5zM1312.5 1582h17.5v3.8h-17.5zM1207.5 1585.5h24.5v3.8h-24.5zM1242.5 1585.5h49v3.8h-49zM1309 1585.5h17.5v3.8h-17.5zM1214.5 1589h17.5v3.8h-17.5zM1242.5 1589h38.5v3.8h-38.5zM1309 1589h17.5v3.8h-17.5zM1214.5 1592.5h59.5v3.8h-59.5zM1305.5 1592.5h17.5v3.8h-17.5zM1218 1596h52.5v3.8h-52.5zM1305.5 1596h14v3.8h-14zM1235.5 1599.5h35v3.8h-35zM1302 1599.5h14v3.8h-14zM1242.5 1603h24.5v3.8h-24.5zM1302 1603h14v3.8h-14zM1249.5 1606.5h14v3.8h-14zM1302 1606.5h10.5v3.8h-10.5zM1298.5 1610h10.5v3.8h-10.5zM1298.5 1613.5h7v3.8h-7zM1295 1617h10.5v3.8h-10.5zM1295 1620.5h7v3.8h-7zM1291.5 1624h7v3.8h-7z"/><clipPath id="rbc"><use href="#rbp"/></clipPath></defs>
<use href="#rbp" fill="url(#rbodyg)"/>
<g clip-path="url(#rbc)"><path d="M967 1320 L1201 1498" stroke="#2cd0ff" stroke-width="40" opacity="0.18" filter="url(#blur12)" fill="none"/><path d="M993 1310 L1151 1374 L1311 1410" stroke="#002a80" stroke-width="34" opacity="0.22" filter="url(#blur12)" fill="none"/><path d="M881 1432 L1061 1502 L1251 1612" stroke="#002a80" stroke-width="30" opacity="0.14" filter="url(#blur12)" fill="none"/></g>
<rect x="45" y="1409" width="12" height="6" fill="#b09410"/><rect x="49" y="1414" width="6" height="4" fill="#b09410"/><rect x="15" y="1323" width="3.500" height="3.500" fill="#e02010"/>
<rect x="786" y="1436" width="8" height="7" fill="#b01008"/><rect x="845" y="1436.500" width="6" height="4" fill="#c01808"/><rect x="922" y="1296.500" width="3" height="3" fill="#a01008"/>
<rect x="230" y="1468" width="5" height="4" fill="#1090e0"/><rect x="240" y="1474" width="6" height="4" fill="#1090e0"/>
<rect x="962" y="1469" width="8" height="5" fill="#1078e0"/><rect x="972" y="1472" width="6" height="4" fill="#1078e0"/>
<line x1="31" y1="1318.3" x2="263" y2="1318.3" stroke="#22d81c" stroke-width="3"/>
<polygon points="275,1318.3 258,1314.7 258,1321.9" fill="#22d81c"/>
<line x1="154.2" y1="1428.5" x2="154.2" y2="1217" stroke="#0a0ad8" stroke-width="3.500"/>
<polygon points="154.2,1207 150.2,1224 158.2,1224" fill="#0a0ad8"/>
<circle cx="154.2" cy="1318.3" r="3.700" fill="#7a0c10"/>
<text x="152.3" y="1206" style="font-family:'Liberation Sans',sans-serif;font-size:6px" fill="#555">Y</text><text x="276.500" y="1318" style="font-family:'Liberation Sans',sans-serif;font-size:6px" fill="#555">x</text>
<text x="883.300" y="1208" style="font-family:'Liberation Sans',sans-serif;font-size:6px" fill="#555">Y</text><text x="1006.500" y="1320" style="font-family:'Liberation Sans',sans-serif;font-size:6px" fill="#555">x</text>
<line x1="765" y1="1320.3" x2="993" y2="1320.3" stroke="#22d81c" stroke-width="3"/>
<polygon points="1005,1320.3 988,1316.7 988,1323.9" fill="#22d81c"/>
<line x1="885.2" y1="1429" x2="885.2" y2="1219" stroke="#0a0ad8" stroke-width="3.500"/>
<polygon points="885.2,1209 881.2,1226 889.2,1226" fill="#0a0ad8"/>
<circle cx="885.2" cy="1320.3" r="3.700" fill="#7a0c10"/>
</svg>
</body></html>
